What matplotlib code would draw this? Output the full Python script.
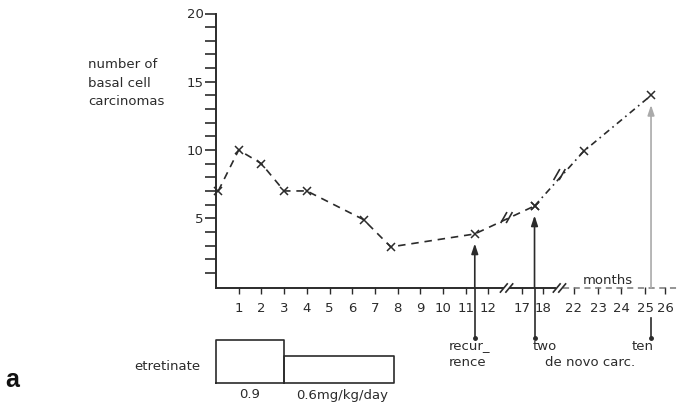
import numpy as np
import matplotlib
matplotlib.use("Agg")
import matplotlib.pyplot as plt

# ---- data ----
months = [0.1, 1, 2, 3, 4, 6.5, 7.7, 11.4, 17.6, 22.4, 25.3]
counts = [7, 10, 9, 7, 7, 4.9, 2.9, 3.85, 5.9, 9.9, 14.0]
tick_months = [1, 2, 3, 4, 5, 6, 7, 8, 9, 10, 11, 12, 17, 18, 22, 23, 24, 25, 26]
tick_labels = [str(m) for m in tick_months]
# broken-axis positions of the month ticks
axis_months = [0, 1, 2, 3, 4, 5, 6, 7, 8, 9, 10, 11, 12, 17, 18, 22, 23, 24, 25, 26]
axis_pos = [0, 1, 2, 3, 4, 5, 6, 7, 8, 9, 10, 11, 12, 13.48, 14.4, 15.77, 16.83, 17.84, 18.9, 19.78]
dose_start = [0, 3]
dose_end = [3, 7.85]
dose_labels = ["0.9", "0.6mg/kg/day"]
events_month = [11.4, 17.6, 25.3]
event_labels = ["recur_\nrence", "two", "ten"]

C = "#2b2b2b"
plt.rcParams['font.family'] = ['DejaVu Sans']

def pos(m):
    return np.interp(m, axis_months, axis_pos)

W, H = 680, 405
X0, Y0 = 216, 286.5
SX, SY = 22.7, 13.65
fig = plt.figure(figsize=(W / 100, H / 100), dpi=100)
ax = fig.add_axes([X0 / W, (H - Y0) / H, 20 * SX / W, 20 * SY / H])
ax.set_xlim(0, 20)
ax.set_ylim(0, 20)

def px(x):
    return (x - X0) / SX

def py(y):
    return (Y0 - y) / SY

for s in ["top", "right", "bottom"]:
    ax.spines[s].set_visible(False)
ax.spines["left"].set_color(C)
ax.spines["left"].set_linewidth(1.4)
ax.spines["left"].set_bounds(py(288), 20)
ax.set_yticks([5, 10, 15, 20])
ax.set_yticks(range(1, 20), minor=True)
ax.tick_params(axis="y", which="both", direction="out", length=8, width=1.2, color=C,
               labelcolor=C, labelsize=9.5, pad=1)
ax.set_xticks([pos(m) for m in tick_months])
ax.set_xticklabels(tick_labels)
ax.tick_params(axis="x", which="both", direction="out", length=5, width=1.0, color=C,
               labelcolor=C, labelsize=9.5, pad=6)

# broken x axis
yax = py(288)
ax.plot([0, 12.65], [yax, yax], color=C, lw=1.4, clip_on=False)
ax.plot([12.95, 14.95], [yax, yax], color=C, lw=1.4, clip_on=False)
ax.plot([15.3, 20.6], [yax, yax], color="#777777", lw=1.1, ls=(0, (4, 3)), clip_on=False)
for bx in [12.8, 15.13]:
    for dx in [-0.12, 0.12]:
        ax.plot([bx + dx - 0.15, bx + dx + 0.15], [yax - 0.3, yax + 0.3], color=C, lw=1.2, clip_on=False)

# data line
p = pos(np.array(months))
c = np.array(counts)
ax.plot(p[:9], c[:9], color=C, lw=1.2, ls=(0, (4.5, 3.5)), marker="x", ms=5.5, mew=1.1, clip_on=False)
ax.plot(p[8:], c[8:], color=C, lw=1.2, ls=(0, (4, 2.5, 1, 2.5)), marker="x", ms=5.5, mew=1.1, clip_on=False)
# breaks on data line
for bx, by in [(12.8, 5.05), (15.13, 8.2)]:
    for dx in [-0.12, 0.12]:
        ax.plot([bx + dx - 0.12, bx + dx + 0.12], [by - 0.35, by + 0.35], color=C, lw=1.2, clip_on=False)

# event arrows
ybot = py(338)
for i, (m, lab) in enumerate(zip(events_month, event_labels)):
    xe = pos(m)
    ci = C if i < 2 else "#aaaaaa"
    tip = np.interp(m, months, counts) - 0.7
    ax.annotate("", xy=(xe, tip), xytext=(xe, yax), xycoords="data",
                arrowprops=dict(arrowstyle="-|>,head_length=0.6,head_width=0.2", color=ci, lw=1.2,
                                shrinkA=0, shrinkB=0), annotation_clip=False)
    y_start = yax if i < 2 else py(318)
    ax.plot([xe, xe], [y_start, ybot], color=C, lw=1.2, clip_on=False)
    ax.plot([xe], [ybot], "o", color=C, ms=2.5, clip_on=False)

kw = dict(color=C, fontsize=9.5, clip_on=False)
ax.text(px(449), py(347), "recur_", ha="left", va="center", **kw)
ax.text(px(449), py(362), "rence", ha="left", va="center", **kw)
ax.text(px(533), py(347), "two", ha="left", va="center", **kw)
ax.text(px(545), py(363), "de novo carc.", ha="left", va="center", **kw)
ax.text(px(632), py(347), "ten", ha="left", va="center", **kw)
ax.text(px(583), py(280), "months", ha="left", va="center", **kw)
ax.text(px(88), py(83), "number of\nbasal cell\ncarcinomas", ha="left", va="center",
        linespacing=1.55, **kw)

# etretinate dosing boxes
ytop = [py(340), py(356)]
yb = py(383)
for s, e, t in zip(dose_start, dose_end, ytop):
    xs, xe = pos(s), pos(e)
    ax.plot([xs, xs, xe, xe, xs], [yb, t, t, yb, yb], color=C, lw=1.2, clip_on=False)
ax.text(px(200), py(367), "etretinate", ha="right", va="center", **kw)
ax.text(px(250), py(395), dose_labels[0], ha="center", va="center", **kw)
ax.text(px(296), py(395), dose_labels[1], ha="left", va="center", **kw)

fig.text(5 / W, 1 - 380 / H, "a", fontsize=18, fontweight="bold", family="Liberation Sans",
         color="#111111", ha="left", va="center")

fig.savefig("out.png", dpi=100)
